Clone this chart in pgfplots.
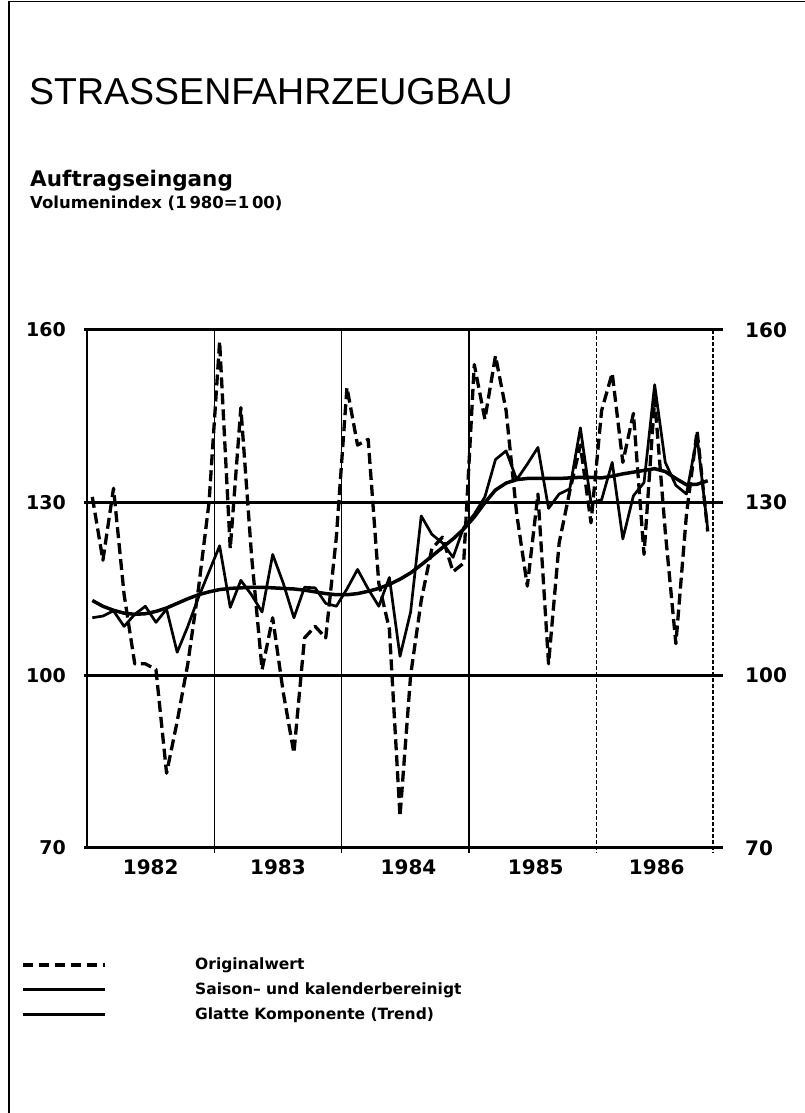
\documentclass[border=0pt]{standalone}
\usepackage{pgfplots}
\pgfplotsset{compat=1.18}
\usepackage{pgfplotstable}
\usepackage{fontspec}
\setmainfont{DejaVu Sans}
\newfontfamily\titlefont{Liberation Sans}

% Originalwert (monthly, Jan 1982 = 0)
\pgfplotstableread{
m v
0 131
1 120
2 132.5
3 114
4 102
5 102
6 101
7 83
8 92
9 102
10 115
11 130
12 158
13 122
14 146.5
15 121
16 101
17 110
18 97
19 86.5
20 106.5
21 108.5
22 106.5
23 124
24 150
25 140
26 141
27 116
28 108
29 75.5
30 100
31 113
32 122
33 124
34 118
35 119.5
36 154
37 144.5
38 155.5
39 146
40 128
41 115.5
42 131.5
43 102
44 123
45 132
46 140
47 126.5
48 146
49 152.5
50 137
51 145.5
52 121
53 148
54 125
55 105.5
56 128
57 142.5
58 125
}\orig

% Saison- und kalenderbereinigt
\pgfplotstableread{
m v
0 110
1 110.3
2 111.2
3 108.5
4 110.6
5 112
6 109.2
7 111.5
8 104
9 108.5
10 113.5
11 118
12 122.5
13 111.8
14 116.5
15 114
16 111
17 121
18 116
19 110
20 115.3
21 115.2
22 112.5
23 112
24 115
25 118.4
26 115
27 112
28 117
29 103.3
30 111
31 127.7
32 124.5
33 123
34 120.5
35 125.7
36 128
37 131
38 137.5
39 139
40 134
41 136.7
42 139.6
43 129
44 131.5
45 132.4
46 143
47 130
48 130.5
49 137
50 123.7
51 131.2
52 133.5
53 150.5
54 137
55 133
56 131.5
57 141.5
58 125.4
}\sa

% Glatte Komponente (Trend)
\pgfplotstableread{
m v
0 113
1 112
2 111.3
3 110.8
4 110.6
5 110.7
6 111.1
7 111.7
8 112.5
9 113.3
10 114
11 114.5
12 114.9
13 115.1
14 115.2
15 115.3
16 115.3
17 115.2
18 115.1
19 115
20 114.8
21 114.5
22 114.2
23 114
24 114
25 114.2
26 114.6
27 115.1
28 115.8
29 116.7
30 117.8
31 119.2
32 120.7
33 122.2
34 123.7
35 125.4
36 127.5
37 130
38 132.2
39 133.4
40 134
41 134.2
42 134.2
43 134.2
44 134.2
45 134.3
46 134.4
47 134.4
48 134.3
49 134.6
50 135
51 135.3
52 135.6
53 135.9
54 135.4
55 134.2
56 133.1
57 133.2
58 133.8
}\trend

\newcommand\lab{\bfseries\fontsize{19bp}{22bp}\selectfont}
\newcommand\rlab{\bfseries\fontsize{20bp}{23bp}\selectfont}
\newcommand\yr{\bfseries\fontsize{20bp}{23bp}\selectfont}

\begin{document}
\begin{tikzpicture}[x=1bp,y=1bp]
% page frame (left and top edges)
\draw[line width=1.8bp] (9,0) -- (9,1111.5) -- (805,1111.5);

\node[anchor=base west, inner sep=0, font=\titlefont\fontsize{37.5bp}{40bp}\selectfont] at (29,1008) {STRASSENFAHRZEUGBAU};
\node[anchor=base west, inner sep=0, font=\bfseries\fontsize{21.5bp}{24bp}\selectfont] at (30,926) {Auftragseingang};
\node[anchor=base west, inner sep=0, font=\bfseries\fontsize{16.5bp}{19bp}\selectfont] at (30,904) {Volumenindex (1\,980=1\,00)};

\begin{axis}[
  at={(87bp,265bp)}, anchor=south west,
  scale only axis, width=626bp, height=518bp,
  xmin=0, xmax=59, ymin=70, ymax=160,
  hide axis, clip=false,
]
% horizontal rules and value labels
\pgfplotsinvokeforeach{70,100,130,160}{
  \draw[line width=3bp] ([xshift=-3bp]axis cs:0,#1) -- ([xshift=10bp]axis cs:59,#1);
  \node[anchor=east, inner sep=0, font=\lab] at ([xshift=-21bp]axis cs:0,#1) {#1};
  \node[anchor=west, inner sep=0, font=\rlab] at ([xshift=32bp]axis cs:59,#1) {#1};
}
% left axis
\draw[line width=2.6bp] (axis cs:0,70) -- (axis cs:0,160);
% year separators
\pgfplotsinvokeforeach{12,24,36}{
  \draw[line width=1.5bp] (axis cs:#1,160) -- ([yshift=-5bp]axis cs:#1,70);
}
\pgfplotsinvokeforeach{48,59}{
  \draw[line width=1.3bp, dash pattern=on 4bp off 2bp] (axis cs:#1,160) -- ([yshift=-5bp]axis cs:#1,70);
}
% year labels
\node[anchor=base, inner sep=0, font=\yr] at ([yshift=-27bp]axis cs:6,70) {1982};
\node[anchor=base, inner sep=0, font=\yr] at ([yshift=-27bp]axis cs:18,70) {1983};
\node[anchor=base, inner sep=0, font=\yr] at ([yshift=-27bp]axis cs:30.3,70) {1984};
\node[anchor=base, inner sep=0, font=\yr] at ([yshift=-27bp]axis cs:42.3,70) {1985};
\node[anchor=base, inner sep=0, font=\yr] at ([yshift=-27bp]axis cs:53.7,70) {1986};

% data
\addplot[black, line width=2.7bp, line join=round, no markers] table[x expr=\thisrow{m}+0.5, y=v] {\sa};
\addplot[black, line width=3.5bp, line join=round, no markers] table[x expr=\thisrow{m}+0.5, y=v] {\trend};
\addplot[black, line width=3.3bp, dash pattern=on 11bp off 5bp, line join=round, no markers] table[x expr=\thisrow{m}+0.5, y=v] {\orig};
\end{axis}

% legend
\draw[line width=3.3bp, dash pattern=on 10bp off 6bp] (23,148) -- (105,148);
\draw[line width=3bp] (23,123) -- (105,123);
\draw[line width=3bp] (23,98) -- (105,98);
\node[anchor=base west, inner sep=0, font=\bfseries\fontsize{15.5bp}{18bp}\selectfont] at (195,143) {Originalwert};
\node[anchor=base west, inner sep=0, font=\bfseries\fontsize{15.5bp}{18bp}\selectfont] at (195,118) {Saison-- und kalenderbereinigt};
\node[anchor=base west, inner sep=0, font=\bfseries\fontsize{15.5bp}{18bp}\selectfont] at (195,93) {Glatte Komponente (Trend)};

\pgfresetboundingbox
\path (0,0) rectangle (805,1113);
\end{tikzpicture}
\end{document}
